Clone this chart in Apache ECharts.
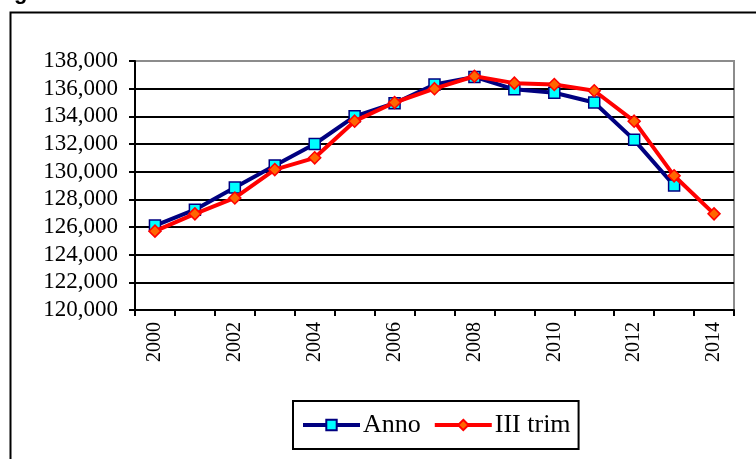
<!DOCTYPE html>
<html>
<head>
<meta charset="utf-8">
<script src="https://cdn.jsdelivr.net/npm/echarts@6/dist/echarts.min.js"></script>
<style>
html,body{margin:0;padding:0;background:#fff;}
#c{width:756px;height:459px;}
</style>
</head>
<body>
<div id="c"></div>
<script>
const years = ['2000','2001','2002','2003','2004','2005','2006','2007','2008','2009','2010','2011','2012','2013','2014'];
const annoValues = [126100, 127250, 128850, 130450, 132000, 134000, 134950, 136300, 136850, 135950, 135700, 135000, 132300, 129000, null];
const trimValues = [125700, 126950, 128100, 130150, 131000, 133650, 135000, 136000, 136900, 136400, 136300, 135850, 133650, 129700, 126950];
const seriesNames = ['Anno', 'III trim'];
const yMin = 120000, yMax = 138000, yStep = 2000;

const serif = "'Liberation Serif','Times New Roman',serif";
const chart = echarts.init(document.getElementById('c'), null, {renderer: 'canvas'});
chart.setOption({
  animation: false,
  backgroundColor: '#fff',
  grid: {left: 135, right: 22, top: 61, bottom: 149, show: true, borderColor: '#8c8c8c', borderWidth: 2, containLabel: false},
  xAxis: {
    type: 'category', data: years, boundaryGap: true,
    axisLine: {lineStyle: {color: '#000', width: 2}},
    axisTick: {show: true, interval: 0, length: 6, lineStyle: {color: '#000', width: 2}},
    axisLabel: {interval: 1, rotate: 90, margin: 12, color: '#000', fontFamily: serif, fontSize: 20},
    splitLine: {show: false}
  },
  yAxis: {
    type: 'value', min: yMin, max: yMax, interval: yStep,
    axisLine: {show: true, lineStyle: {color: '#000', width: 2}},
    axisTick: {show: true, length: 6, lineStyle: {color: '#000', width: 2}},
    axisLabel: {margin: 17, color: '#000', fontFamily: serif, fontSize: 23,
      formatter: v => v.toLocaleString('en-US')},
    splitLine: {show: true, showMaxLine: false, lineStyle: {color: '#000', width: 2}}
  },
  legend: {
    left: 293, top: 401,
    padding: [10, 8, 10, 8],
    borderColor: '#000', borderWidth: 2,
    itemWidth: 57, itemHeight: 13, itemGap: 12,
    lineStyle: {width: 4},
    textStyle: {color: '#000', fontFamily: serif, fontSize: 26, lineHeight: 28, padding: [0,0,0,-2]},
    data: seriesNames
  },
  series: [
    {
      name: seriesNames[0], type: 'line', data: annoValues,
      symbol: 'rect', symbolSize: 11, showAllSymbol: true,
      lineStyle: {color: '#000080', width: 4},
      itemStyle: {color: '#00ffff', borderColor: '#000080', borderWidth: 1.5},
      z: 2
    },
    {
      name: seriesNames[1], type: 'line', data: trimValues,
      symbol: 'diamond', symbolSize: 12, showAllSymbol: true,
      lineStyle: {color: '#ff0000', width: 4},
      itemStyle: {color: '#ff6600', borderColor: '#ff0000', borderWidth: 1.5},
      z: 3
    }
  ],
  graphic: [
    {type: 'rect', left: 8, top: 10, shape: {x: 0, y: 0, width: 780, height: 480},
     style: {fill: 'none', stroke: '#000', lineWidth: 2}, silent: true, z: -1},
    {type: 'text', x: 14, y: 4, style: {text: 'g', font: "bold 22px 'Liberation Sans', Arial, sans-serif", fill: '#000', verticalAlign: 'bottom'}, silent: true}
  ]
});
</script>
</body>
</html>
